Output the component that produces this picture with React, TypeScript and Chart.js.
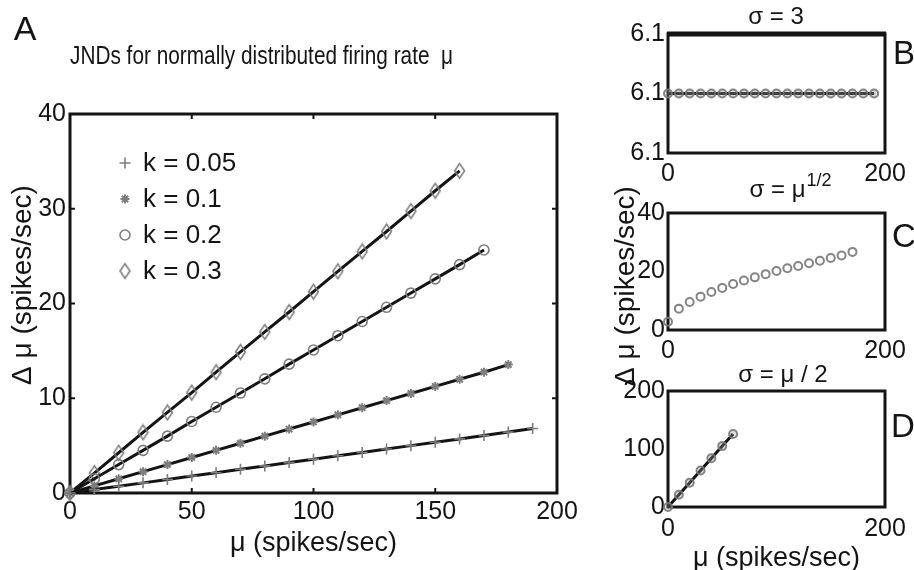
import React, { useEffect, useRef } from 'react';
import { Chart, registerables } from 'chart.js';
import { drawPoint } from 'chart.js/helpers';

Chart.register(...registerables);

// ---------------- Panel A data ----------------
const muK005 = [0, 10, 20, 30, 40, 50, 60, 70, 80, 90, 100, 110, 120, 130, 140, 150, 160, 170, 180, 190];
const jndK005 = [0, 0.36, 0.71, 1.07, 1.43, 1.79, 2.14, 2.5, 2.86, 3.21, 3.57, 3.93, 4.28, 4.64, 5.0, 5.36, 5.71, 6.07, 6.43, 6.8];
const muK01 = [0, 10, 20, 30, 40, 50, 60, 70, 80, 90, 100, 110, 120, 130, 140, 150, 160, 170, 180];
const jndK01 = [0, 0.75, 1.5, 2.25, 3.0, 3.75, 4.5, 5.25, 6.0, 6.75, 7.5, 8.25, 9.0, 9.75, 10.5, 11.25, 12.0, 12.75, 13.55];
const muK02 = [0, 10, 20, 30, 40, 50, 60, 70, 80, 90, 100, 110, 120, 130, 140, 150, 160, 170];
const jndK02 = [0, 1.5, 3.0, 4.5, 6.0, 7.55, 9.05, 10.55, 12.05, 13.6, 15.1, 16.6, 18.1, 19.6, 21.1, 22.6, 24.1, 25.65];
const muK03 = [0, 10, 20, 30, 40, 50, 60, 70, 80, 90, 100, 110, 120, 130, 140, 150, 160];
const jndK03 = [0, 2.1, 4.25, 6.4, 8.5, 10.6, 12.75, 14.9, 17.0, 19.1, 21.25, 23.4, 25.5, 27.6, 29.75, 31.9, 34.0];
const legendLabelsA = ['k = 0.05', 'k = 0.1', 'k = 0.2', 'k = 0.3'];
const xTicksA = [0, 50, 100, 150, 200];
const yTicksA = [0, 10, 20, 30, 40];

// ---------------- Panel B data (sigma = 3) ----------------
const muB = [0, 10, 20, 30, 40, 50, 60, 70, 80, 90, 100, 110, 120, 130, 140, 150, 160, 170, 180, 190];
const jndB = [6.1, 6.1, 6.1, 6.1, 6.1, 6.1, 6.1, 6.1, 6.1, 6.1, 6.1, 6.1, 6.1, 6.1, 6.1, 6.1, 6.1, 6.1, 6.1, 6.1];
const yTicksB = [6.099, 6.1, 6.101];
const yTickLabelsB = ['6.1', '6.1', '6.1'];

// ---------------- Panel C data (sigma = mu^1/2) ----------------
const muC = [0, 10, 20, 30, 40, 50, 60, 70, 80, 90, 100, 110, 120, 130, 140, 150, 160, 170];
const jndC = [2.8, 7.3, 9.6, 11.4, 13.0, 14.4, 15.7, 16.9, 18.0, 19.1, 20.2, 21.1, 21.9, 22.8, 23.7, 24.6, 25.5, 26.7];
const yTicksC = [0, 20, 40];

// ---------------- Panel D data (sigma = mu/2) ----------------
const muD = [0, 10, 20, 30, 40, 50, 60];
const jndD = [0, 21, 42, 63, 84, 105, 126];
const yTicksD = [0, 100, 200];

const xTicksPanel = [0, 200];

// ---------------- titles ----------------
const titleA = 'JNDs for normally distributed firing rate  \u03bc';
const yTitle = '\u0394 \u03bc (spikes/sec)';
const xTitle = '\u03bc (spikes/sec)';

const SANS = "'Liberation Sans', Arial, Helvetica, sans-serif";
const INK = '#141414';
const MARK = '#7d7d7d';

const pts = (xs: number[], ys: number[]) => xs.map((x, i) => ({ x, y: ys[i] }));

function makeDiamond(w: number, h: number, color: string, lw: number) {
  const c = document.createElement('canvas');
  c.width = Math.ceil(w + lw * 2);
  c.height = Math.ceil(h + lw * 2);
  const g = c.getContext('2d')!;
  g.strokeStyle = color;
  g.lineWidth = lw;
  g.beginPath();
  g.moveTo(c.width / 2, lw);
  g.lineTo(c.width - lw, c.height / 2);
  g.lineTo(c.width / 2, c.height - lw);
  g.lineTo(lw, c.height / 2);
  g.closePath();
  g.stroke();
  return c;
}

// ---------------- plugins ----------------
const framePlugin = {
  id: 'frame',
  beforeDatasetsDraw(chart: any, _a: any, opts: any) {
    const { left, right, top, bottom } = chart.chartArea;
    const ctx = chart.ctx;
    ctx.save();
    ctx.strokeStyle = INK;
    if (opts.tickLen) {
      ctx.lineWidth = 2;
      const xs = chart.scales.x;
      const ys = chart.scales.y;
      xs.ticks.forEach((t: any) => {
        const px = xs.getPixelForValue(t.value);
        if (px <= left + 2 || px >= right - 2) return;
        ctx.beginPath();
        ctx.moveTo(px, top);
        ctx.lineTo(px, top + opts.tickLen);
        ctx.moveTo(px, bottom);
        ctx.lineTo(px, bottom - opts.tickLen);
        ctx.stroke();
      });
      ys.ticks.forEach((t: any) => {
        const py = ys.getPixelForValue(t.value);
        if (py <= top + 2 || py >= bottom - 2) return;
        ctx.beginPath();
        ctx.moveTo(left, py);
        ctx.lineTo(left + opts.tickLen, py);
        ctx.moveTo(right, py);
        ctx.lineTo(right - opts.tickLen, py);
        ctx.stroke();
      });
    }
    ctx.lineWidth = opts.width || 3;
    ctx.strokeRect(left, top, right - left, bottom - top);
    if (opts.topWidth) {
      ctx.lineWidth = opts.topWidth;
      ctx.beginPath();
      ctx.moveTo(left - 1, top);
      ctx.lineTo(right + 1, top);
      ctx.stroke();
    }
    ctx.restore();
  },
};

const textPlugin = {
  id: 'freeText',
  afterDraw(chart: any, _a: any, opts: any) {
    const ctx = chart.ctx;
    (opts.items || []).forEach((it: any) => {
      ctx.save();
      ctx.fillStyle = it.color || INK;
      ctx.textBaseline = 'middle';
      ctx.translate(it.x, it.y);
      if (it.rotate) ctx.rotate(it.rotate);
      if (it.scaleX) ctx.scale(it.scaleX, 1);
      ctx.font = it.font;
      if (it.sup) {
        const mainW = ctx.measureText(it.text).width;
        ctx.font = it.supFont;
        const supW = ctx.measureText(it.sup).width;
        const x0 = -(mainW + supW) / 2;
        ctx.textAlign = 'left';
        ctx.font = it.font;
        ctx.fillText(it.text, x0, 0);
        ctx.font = it.supFont;
        ctx.fillText(it.sup, x0 + mainW + 1, -it.supRise);
      } else {
        ctx.textAlign = it.align || 'center';
        ctx.fillText(it.text, 0, 0);
      }
      ctx.restore();
    });
  },
};

const insetLegendPlugin = {
  id: 'insetLegend',
  afterDatasetsDraw(chart: any, _a: any, opts: any) {
    const ctx = chart.ctx;
    chart.data.datasets.forEach((ds: any, i: number) => {
      const y = opts.y0 + i * opts.dy;
      ctx.save();
      ctx.strokeStyle = ds.pointBorderColor;
      ctx.fillStyle = ds.pointBackgroundColor;
      ctx.lineWidth = ds.pointBorderWidth;
      drawPoint(ctx, { pointStyle: ds.pointStyle, rotation: 0, radius: ds.pointRadius, borderWidth: ds.pointBorderWidth }, opts.markerX, y);
      ctx.restore();
      ctx.save();
      ctx.fillStyle = INK;
      ctx.font = opts.font;
      ctx.textAlign = 'left';
      ctx.textBaseline = 'middle';
      ctx.fillText(ds.label, opts.textX, y + 1);
      ctx.restore();
    });
  },
};

function axis(ticksArr: number[], font: number, pad: number, fitSize: number, horizontal: boolean, min: number, max: number, labels?: string[], title?: any) {
  return {
    type: 'linear',
    min,
    max,
    grid: { display: false, drawTicks: false },
    border: { display: false },
    afterBuildTicks: (s: any) => {
      s.ticks = ticksArr.map((v) => ({ value: v }));
    },
    afterFit: (s: any) => {
      if (horizontal) s.height = fitSize;
      else s.width = fitSize;
    },
    ticks: {
      color: INK,
      font: { family: SANS, size: font },
      padding: pad,
      maxRotation: 0,
      autoSkip: false,
      callback: (v: any, i: number) => (labels ? labels[i] : String(v)),
    },
    title: title || { display: false },
  };
}

function baseOptions(padding: any, scales: any, plugins: any) {
  return {
    responsive: false,
    devicePixelRatio: 1,
    animation: false,
    events: [],
    layout: { padding, autoPadding: false },
    scales,
    plugins: {
      legend: { display: false },
      tooltip: { enabled: false },
      title: { display: false },
      ...plugins,
    },
  };
}

function configA(diamond: HTMLCanvasElement) {
  const common = { borderColor: INK, borderWidth: 3, showLine: true, clip: false, pointBorderColor: MARK, pointBackgroundColor: 'rgba(0,0,0,0)' };
  return {
    type: 'scatter',
    data: {
      datasets: [
        { ...common, label: legendLabelsA[0], data: pts(muK005, jndK005), pointStyle: 'cross', pointRadius: 5.5, pointBorderWidth: 1.6 },
        { ...common, label: legendLabelsA[1], data: pts(muK01, jndK01), pointStyle: 'star', pointRadius: 4.5, pointBorderWidth: 2 },
        { ...common, label: legendLabelsA[2], data: pts(muK02, jndK02), pointStyle: 'circle', pointRadius: 5, pointBorderWidth: 1.6 },
        { ...common, label: legendLabelsA[3], data: pts(muK03, jndK03), pointStyle: diamond, pointRadius: 6, pointBorderWidth: 1.6 },
      ],
    },
    options: baseOptions(
      { left: 0, top: 114, right: 914 - 557, bottom: 0 },
      {
        x: axis(xTicksA, 25, 4, 77, true, 0, 200, undefined, {
          display: true,
          text: xTitle,
          color: INK,
          font: { family: SANS, size: 27 },
          padding: { top: 0, bottom: 10 },
        }),
        y: axis(yTicksA, 25, 4, 70, false, 0, 40),
      },
      {
        frame: { width: 3, tickLen: 5 },
        insetLegend: { markerX: 125, textX: 143, y0: 163, dy: 36, font: `26px ${SANS}` },
        freeText: {
          items: [
            { text: 'A', x: 25, y: 31, font: `34px ${SANS}` },
            { text: titleA, x: 70, y: 57, align: 'left', font: `26px ${SANS}`, scaleX: 0.8 },
            { text: yTitle, x: 23, y: 285, rotate: -Math.PI / 2, font: `28px ${SANS}` },
          ],
        },
      }
    ),
    plugins: [framePlugin, insetLegendPlugin, textPlugin],
  };
}

function configB() {
  return {
    type: 'scatter',
    data: {
      datasets: [
        {
          label: '\u03c3 = 3',
          data: pts(muB, jndB),
          showLine: true,
          clip: false,
          borderColor: INK,
          borderWidth: 3,
          pointStyle: 'circle',
          pointRadius: 4,
          pointBorderWidth: 2,
          pointBorderColor: 'rgba(120,120,120,0.9)',
          pointBackgroundColor: 'rgba(150,150,150,0.35)',
        },
      ],
    },
    options: baseOptions(
      { left: 618, top: 34, right: 29, bottom: 570 - 153 - 35 },
      {
        x: axis(xTicksPanel, 25, 6, 35, true, 0, 200),
        y: axis(yTicksB, 25, 3, 50, false, 6.099, 6.101, yTickLabelsB),
      },
      {
        frame: { width: 3, topWidth: 5 },
        freeText: {
          items: [
            { text: '\u03c3 = 3', x: 776, y: 17, font: `24px ${SANS}` },
            { text: 'B', x: 904, y: 55, font: `33px ${SANS}` },
          ],
        },
      }
    ),
    plugins: [framePlugin, textPlugin],
  };
}

function configC() {
  return {
    type: 'scatter',
    data: {
      datasets: [
        {
          label: '\u03c3 = \u03bc^1/2',
          data: pts(muC, jndC),
          showLine: false,
          clip: false,
          pointStyle: 'circle',
          pointRadius: 4,
          pointBorderWidth: 2,
          pointBorderColor: 'rgba(125,125,125,0.95)',
          pointBackgroundColor: 'rgba(0,0,0,0)',
        },
      ],
    },
    options: baseOptions(
      { left: 618, top: 213, right: 29, bottom: 570 - 330 - 35 },
      {
        x: axis(xTicksPanel, 25, 6, 35, true, 0, 200),
        y: axis(yTicksC, 25, 3, 50, false, 0, 40),
      },
      {
        frame: { width: 3 },
        freeText: {
          items: [
            { text: '\u03c3 = \u03bc', sup: '1/2', x: 790, y: 190, font: `24px ${SANS}`, supFont: `18px ${SANS}`, supRise: 9 },
            { text: 'C', x: 904, y: 238, font: `33px ${SANS}` },
            { text: yTitle, x: 626, y: 286, rotate: -Math.PI / 2, font: `28px ${SANS}` },
          ],
        },
      }
    ),
    plugins: [framePlugin, textPlugin],
  };
}

function configD() {
  return {
    type: 'scatter',
    data: {
      datasets: [
        {
          label: '\u03c3 = \u03bc / 2',
          data: pts(muD, jndD),
          showLine: true,
          clip: false,
          borderColor: INK,
          borderWidth: 3,
          pointStyle: 'circle',
          pointRadius: 4,
          pointBorderWidth: 2,
          pointBorderColor: 'rgba(120,120,120,0.9)',
          pointBackgroundColor: 'rgba(150,150,150,0.3)',
        },
      ],
    },
    options: baseOptions(
      { left: 618, top: 391, right: 29, bottom: 0 },
      {
        x: axis(xTicksPanel, 25, 7, 63, true, 0, 200, undefined, {
          display: true,
          text: xTitle,
          color: INK,
          font: { family: SANS, size: 27, lineHeight: 0.85 },
          padding: { top: 0, bottom: 0 },
        }),
        y: axis(yTicksD, 25, 3, 50, false, 0, 200),
      },
      {
        frame: { width: 3 },
        freeText: {
          items: [
            { text: '\u03c3 = \u03bc / 2', x: 783, y: 375, font: `24px ${SANS}` },
            { text: 'D', x: 903, y: 428, font: `33px ${SANS}` },
          ],
        },
      }
    ),
    plugins: [framePlugin, textPlugin],
  };
}

export default function App() {
  const refA = useRef<HTMLCanvasElement>(null);
  const refB = useRef<HTMLCanvasElement>(null);
  const refC = useRef<HTMLCanvasElement>(null);
  const refD = useRef<HTMLCanvasElement>(null);

  useEffect(() => {
    const diamond = makeDiamond(9, 14, MARK, 1.6);
    const charts = [
      new Chart(refA.current as any, configA(diamond) as any),
      new Chart(refB.current as any, configB() as any),
      new Chart(refC.current as any, configC() as any),
      new Chart(refD.current as any, configD() as any),
    ];
    return () => charts.forEach((c) => c.destroy());
  }, []);

  const cs: React.CSSProperties = { position: 'absolute', left: 0, top: 0, width: 914, height: 570 };
  return (
    <div style={{ position: 'absolute', left: 0, top: 0, width: 914, height: 570, background: '#fff', overflow: 'hidden' }}>
      <canvas ref={refA} width={914} height={570} style={cs} />
      <canvas ref={refB} width={914} height={570} style={cs} />
      <canvas ref={refC} width={914} height={570} style={cs} />
      <canvas ref={refD} width={914} height={570} style={cs} />
    </div>
  );
}
